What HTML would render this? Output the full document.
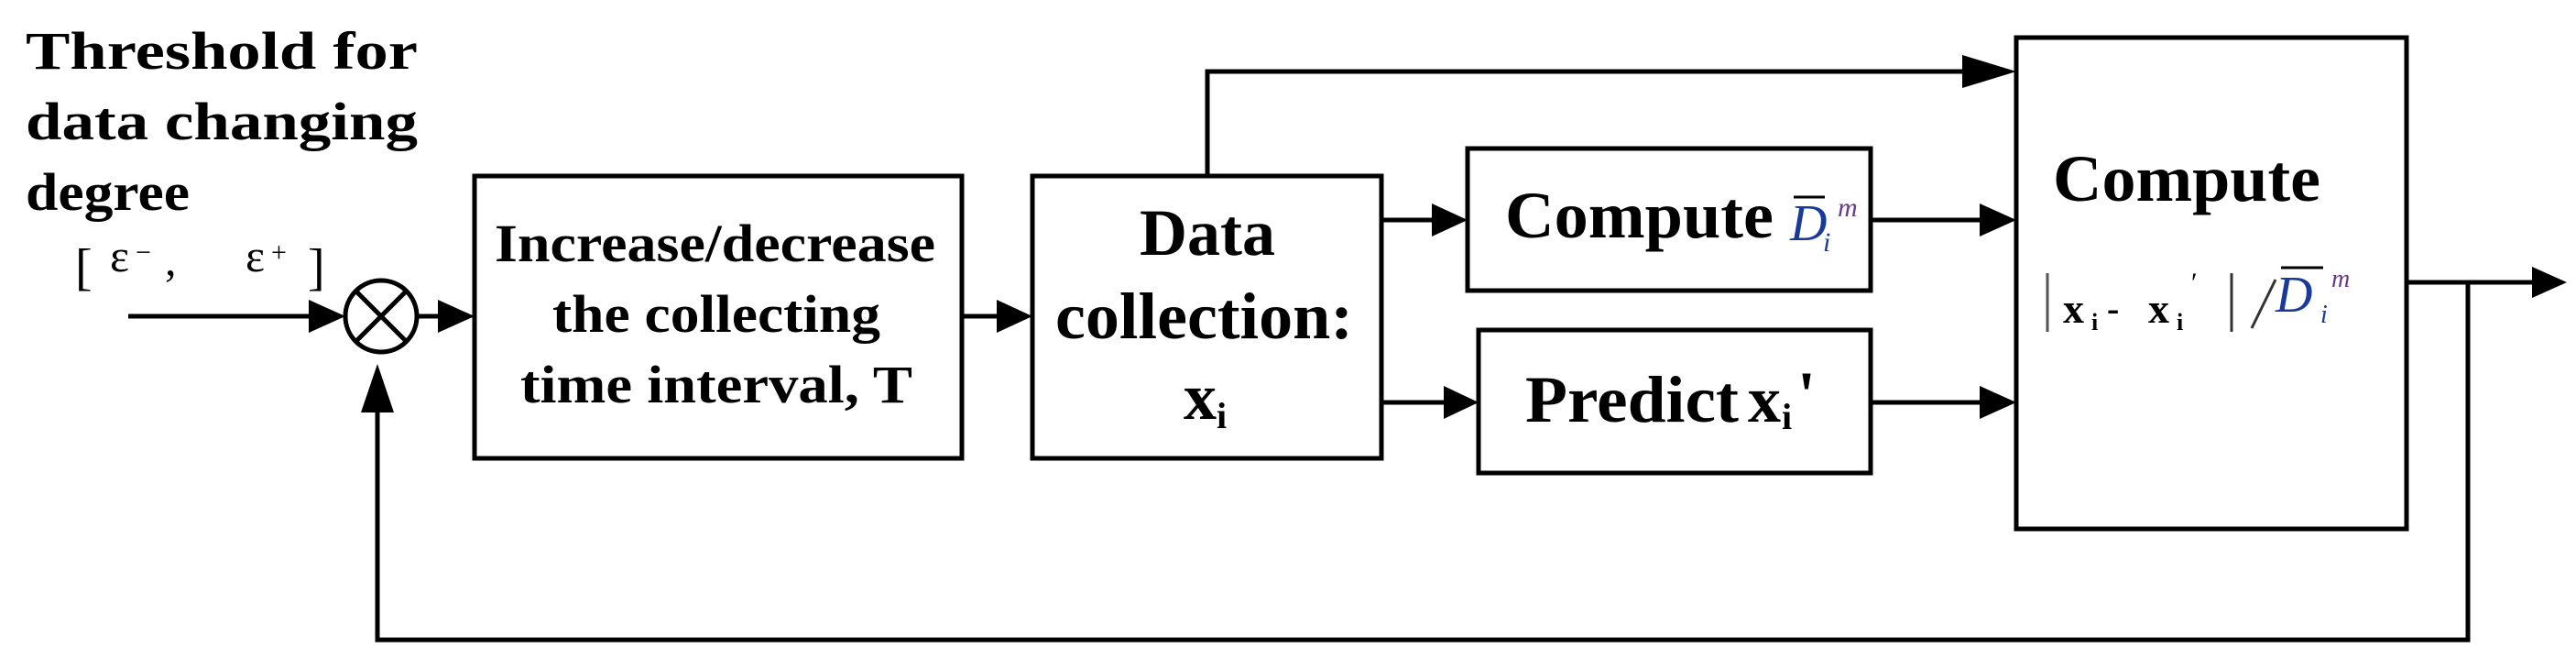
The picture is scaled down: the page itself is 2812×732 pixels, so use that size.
<!DOCTYPE html>
<html><head><meta charset="utf-8"><style>html,body{margin:0;padding:0;background:#fff}svg{display:block}</style></head><body>
<svg width="2812" height="732" viewBox="0 0 2812 732" xmlns="http://www.w3.org/2000/svg" font-family="Liberation Serif, serif">
<g fill="none" stroke="#000" stroke-width="5">
<rect x="518" y="192" width="532" height="308"/>
<rect x="1127" y="192" width="381" height="308"/>
<rect x="1602" y="162" width="440" height="155"/>
<rect x="1614" y="360" width="428" height="156"/>
<rect x="2201" y="41" width="426" height="536"/>
<circle cx="416" cy="345" r="39"/>
<line x1="389" y1="318" x2="443" y2="372"/><line x1="443" y1="318" x2="389" y2="372"/>
<line x1="140" y1="345" x2="350" y2="345"/>
<line x1="456" y1="345" x2="490" y2="345"/>
<line x1="1050" y1="345" x2="1100" y2="345"/>
<polyline points="1318,192 1318,78 2160,78"/>
<line x1="1508" y1="240" x2="1575" y2="240"/>
<line x1="1508" y1="439" x2="1588" y2="439"/>
<line x1="2042" y1="240" x2="2170" y2="240"/>
<line x1="2042" y1="439" x2="2170" y2="439"/>
<line x1="2627" y1="308" x2="2775" y2="308"/>
<polyline points="2694,308 2694,698 412,698 412,430"/>
</g>
<g fill="#000">
<polygon points="377,345 337,327 337,363"/>
<polygon points="518,345 478,327 478,363"/>
<polygon points="1127,345 1088,327 1088,363"/>
<polygon points="2201,78 2142,60 2142,96"/>
<polygon points="1602,240 1563,222 1563,258"/>
<polygon points="1614,439 1576,421 1576,457"/>
<polygon points="2201,240 2161,222 2161,258"/>
<polygon points="2201,439 2161,421 2161,457"/>
<polygon points="2802,308 2764,291 2764,325"/>
<polygon points="412,397 394,450 430,450"/>
</g>
<g font-weight="bold" font-size="58" fill="#000">
<text x="28" y="75" textLength="428" lengthAdjust="spacingAndGlyphs">Threshold for</text>
<text x="28" y="152" textLength="428" lengthAdjust="spacingAndGlyphs">data changing</text>
<text x="28" y="229" textLength="179" lengthAdjust="spacingAndGlyphs">degree</text>
<text x="540" y="285" textLength="481" lengthAdjust="spacingAndGlyphs">Increase/decrease</text>
<text x="603" y="362" textLength="358" lengthAdjust="spacingAndGlyphs">the collecting</text>
<text x="568" y="439" textLength="428" lengthAdjust="spacingAndGlyphs">time interval, T</text>
</g>
<g font-size="50" fill="#000">
<text x="82" y="310" font-size="56">[</text>
<text x="120" y="296">ε</text><text x="148" y="285" font-size="30">−</text><text x="180" y="300">,</text>
<text x="268" y="296">ε</text><text x="296" y="285" font-size="30">+</text>
<text x="336" y="310" font-size="56">]</text>
</g>
<g font-weight="bold" font-size="72" fill="#000">
<text x="1318" y="278" text-anchor="middle">Data</text>
<text x="1152" y="369" textLength="325" lengthAdjust="spacingAndGlyphs">collection:</text>
<text x="1292" y="457">x</text><text x="1328" y="467" font-size="40">i</text>
<text x="1643" y="259" textLength="293" lengthAdjust="spacingAndGlyphs">Compute</text>
<text x="1665" y="460" textLength="233" lengthAdjust="spacingAndGlyphs">Predict</text>
<text x="1908" y="460">x</text><text x="1945" y="468" font-size="40">i</text><text x="1962" y="455">'</text>
<text x="2241" y="219" textLength="292" lengthAdjust="spacingAndGlyphs">Compute</text>
</g>
<g>
<line x1="1958" y1="215" x2="1992" y2="215" stroke="#000" stroke-width="3"/>
<text x="1954" y="262" font-size="56" font-style="italic" fill="#1a3a9a">D</text>
<text x="1990" y="274" font-size="30" font-style="italic" fill="#1a3a9a">i</text>
<text x="2006" y="236" font-size="30" font-style="italic" fill="#6a3a8a">m</text>
</g>
<g fill="#000">
<line x1="2235" y1="298" x2="2235" y2="362" stroke="#555" stroke-width="3"/>
<text x="2252" y="352" font-size="46" font-weight="bold">x</text><text x="2283" y="360" font-size="26" font-weight="bold">i</text>
<text x="2300" y="350" font-size="40" font-weight="bold">-</text>
<text x="2345" y="352" font-size="46" font-weight="bold">x</text><text x="2376" y="360" font-size="26" font-weight="bold">i</text>
<text x="2392" y="318" font-size="30">′</text>
<line x1="2436" y1="298" x2="2436" y2="362" stroke="#333" stroke-width="3"/>
<line x1="2458" y1="358" x2="2484" y2="305" stroke="#333" stroke-width="3"/>
<line x1="2490" y1="292" x2="2536" y2="292" stroke="#000" stroke-width="3"/>
<text x="2484" y="340" font-size="56" font-style="italic" fill="#1a3a9a">D</text>
<text x="2533" y="352" font-size="28" font-style="italic" fill="#1a3a9a">i</text>
<text x="2545" y="313" font-size="28" font-style="italic" fill="#6a3a8a">m</text>
</g>
</svg>
</body></html>
